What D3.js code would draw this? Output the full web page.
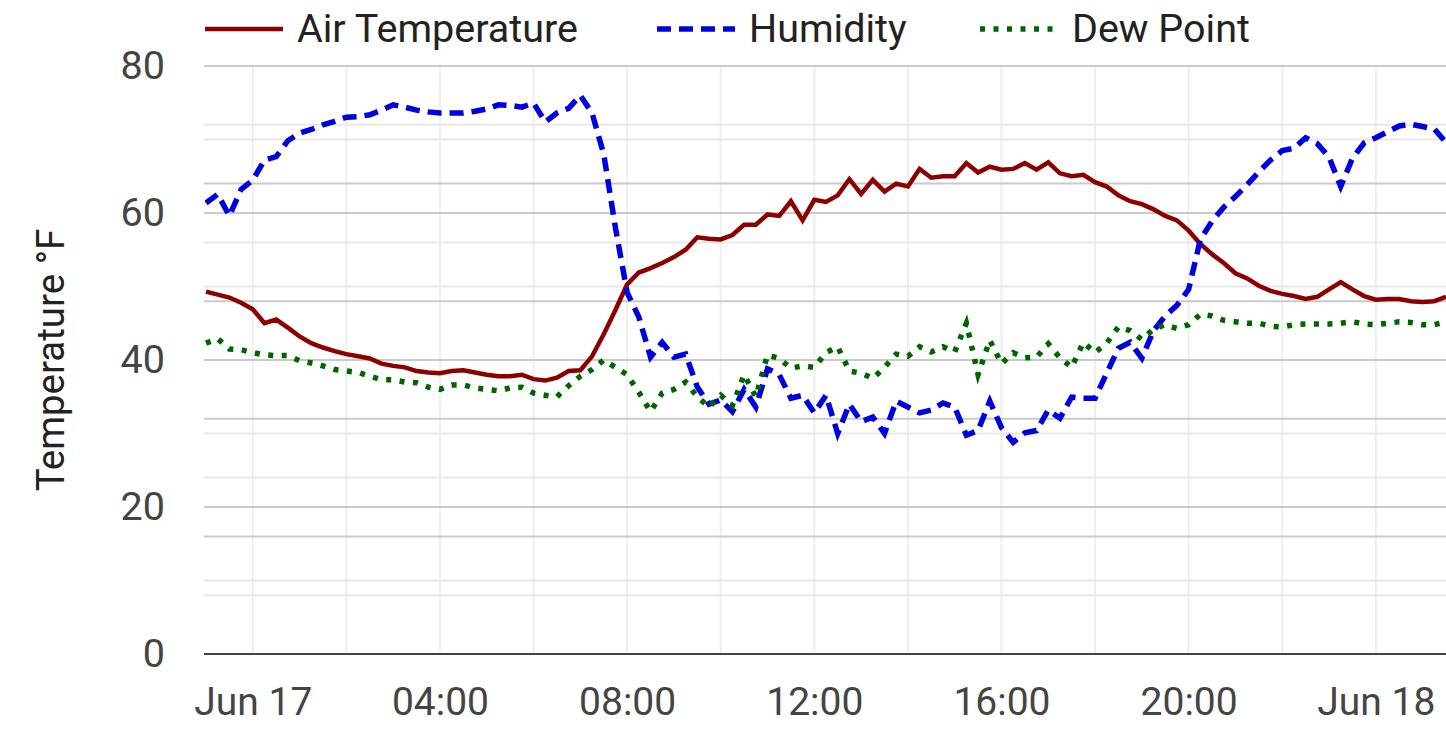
<!DOCTYPE html>
<html>
<head>
<meta charset="utf-8">
<script src="https://cdn.jsdelivr.net/npm/d3@7"></script>
<style>
  html, body { margin: 0; padding: 0; background: #fff; }
  svg { display: block; font-family: Roboto, "Noto Sans", sans-serif; }
</style>
</head>
<body>
<svg id="chart" width="1446" height="729"></svg>
<script>
// station log, one reading every 15 min from Jun 16 23:00
const startTime = new Date(2023, 5, 16, 23, 0);
const stepMinutes = 15;
const endTime = new Date(2023, 5, 18, 1, 30);

// °F
const airTemp = [
  49.3, 48.9, 48.5, 47.8, 46.9, 45.0, 45.5, 44.4, 43.2, 42.3,
  41.7, 41.2, 40.8, 40.5, 40.2, 39.5, 39.2, 39.0, 38.5, 38.3,
  38.2, 38.5, 38.6, 38.3, 38.0, 37.8, 37.8, 38.0, 37.4, 37.2,
  37.6, 38.5, 38.6, 40.5, 43.5, 46.8, 50.3, 51.9, 52.5, 53.2,
  54.0, 55.0, 56.7, 56.5, 56.4, 57.0, 58.4, 58.4, 59.8, 59.6,
  61.6, 59.0, 61.8, 61.5, 62.4, 64.6, 62.6, 64.5, 62.9, 64.0,
  63.6, 66.0, 64.8, 65.0, 65.0, 66.8, 65.5, 66.3, 65.9, 66.0,
  66.8, 65.9, 66.9, 65.4, 65.0, 65.2, 64.2, 63.6, 62.4, 61.6,
  61.2, 60.5, 59.6, 59.0, 57.6, 55.8, 54.4, 53.2, 51.8, 51.1,
  50.1, 49.4, 49.0, 48.7, 48.3, 48.6, 49.6, 50.6, 49.6, 48.7,
  48.2, 48.3, 48.3, 48.0, 47.9, 48.0, 48.6
];

// %RH, plotted on the right-hand 0-100 axis
const humidity = [
  76.7, 78.2, 74.5, 79.0, 80.6, 84.0, 84.6, 87.3, 88.6, 89.2,
  90.0, 90.6, 91.3, 91.4, 91.7, 92.5, 93.4, 93.0, 92.5, 92.2,
  92.0, 92.0, 92.0, 92.3, 92.7, 93.4, 93.3, 93.0, 93.7, 90.5,
  92.0, 92.8, 95.0, 92.0, 85.0, 72.5, 61.5, 57.3, 50.5, 53.0,
  50.5, 51.0, 45.4, 42.5, 43.2, 41.2, 45.0, 42.0, 48.5, 47.5,
  43.5, 44.0, 41.0, 44.0, 37.5, 42.5, 39.5, 40.3, 37.5, 43.0,
  42.0, 41.0, 41.5, 42.7, 42.0, 37.2, 38.0, 43.0, 38.5, 36.0,
  37.6, 38.0, 41.5, 40.1, 43.7, 43.5, 43.5, 47.8, 52.0, 53.0,
  50.3, 55.0, 57.5, 59.3, 62.0, 70.5, 73.6, 76.0, 77.8, 79.8,
  82.0, 84.0, 85.6, 86.0, 87.8, 86.8, 84.5, 79.5, 84.3, 86.9,
  87.8, 88.8, 89.8, 90.1, 89.7, 89.3, 87.0
];

// °F
const dewPoint = [
  42.3, 42.9, 41.5, 41.4, 41.0, 40.7, 40.6, 40.6, 39.9, 39.6,
  39.2, 38.7, 38.5, 38.3, 37.8, 37.3, 37.3, 37.0, 36.9, 36.3,
  36.0, 36.6, 36.6, 36.2, 36.0, 35.8, 36.2, 36.3, 35.5, 35.2,
  35.0, 36.5, 37.8, 38.7, 40.0, 39.0, 38.0, 35.6, 33.0, 35.5,
  36.0, 37.0, 35.0, 33.6, 35.2, 33.8, 38.0, 35.0, 40.7, 40.2,
  38.9, 39.2, 39.0, 41.0, 41.8, 38.5, 38.2, 37.5, 39.0, 40.8,
  40.5, 41.8, 41.1, 41.8, 41.1, 45.0, 38.0, 42.7, 39.5, 41.0,
  40.3, 40.4, 42.2, 40.3, 39.0, 42.4, 41.0, 42.3, 44.5, 44.0,
  42.8, 44.2, 44.8, 44.3, 44.8, 46.2, 46.0, 45.4, 45.2, 45.0,
  45.0, 44.6, 44.5, 44.8, 44.9, 44.9, 44.9, 45.0, 45.2, 44.9,
  44.8, 45.0, 45.2, 45.1, 44.8, 44.8, 45.2
];

const seriesNames = ["Air Temperature", "Humidity", "Dew Point"];
const tempTicks = [0, 20, 40, 60, 80];
const tempMinorTicks = [10, 30, 50, 70];
const humTicks = [20, 40, 60, 80, 100];
const humMinorTicks = [10, 30, 50, 70, 90];

const svg = d3.select("#chart");
const margin = {top: 66, right: 0, bottom: 75, left: 205};
const width = 1446, height = 729;

const x = d3.scaleTime().domain([startTime, endTime]).range([206, width - margin.right]);
const y = d3.scaleLinear().domain([0, 80]).range([height - margin.bottom, margin.top]);
const yHum = d3.scaleLinear().domain([0, 100]).range([height - margin.bottom, margin.top]);

const timeAt = i => d3.timeMinute.offset(startTime, i * stepMinutes);

const series = [
  {name: seriesNames[0], values: airTemp, scale: y, color: "#8b0000", width: 4.5, dash: null},
  {name: seriesNames[1], values: humidity, scale: yHum, color: "#0000dd", width: 5.5, dash: "14,8"},
  {name: seriesNames[2], values: dewPoint, scale: y, color: "#006400", width: 5.5, dash: "5,8.5"}
];

svg.append("clipPath").attr("id", "plot-clip")
  .append("rect")
  .attr("x", margin.left).attr("y", margin.top - 20)
  .attr("width", width - margin.left).attr("height", height - margin.bottom - margin.top + 20);

// grid
const grid = svg.append("g");
const x0 = margin.left - 1, x1 = width;

grid.selectAll(".vgrid")
  .data(x.ticks(d3.timeHour.every(2)))
  .join("line")
  .attr("x1", d => x(d)).attr("x2", d => x(d))
  .attr("y1", margin.top).attr("y2", height - margin.bottom)
  .attr("stroke", "#efefef").attr("stroke-width", 2);

grid.selectAll(".hmin")
  .data(tempMinorTicks.map(y).concat(humMinorTicks.map(yHum)))
  .join("line")
  .attr("x1", x0).attr("x2", x1)
  .attr("y1", d => d).attr("y2", d => d)
  .attr("stroke", "#e8e8e8").attr("stroke-width", 2);

grid.selectAll(".hmaj")
  .data(tempTicks.slice(1).map(y).concat(humTicks.map(yHum)))
  .join("line")
  .attr("x1", x0).attr("x2", x1)
  .attr("y1", d => d).attr("y2", d => d)
  .attr("stroke", "#cacaca").attr("stroke-width", 2);

// baseline
svg.append("line")
  .attr("x1", x0).attr("x2", x1)
  .attr("y1", y(0)).attr("y2", y(0))
  .attr("stroke", "#444").attr("stroke-width", 2);

// lines
const plot = svg.append("g").attr("clip-path", "url(#plot-clip)");
series.forEach(s => {
  const line = d3.line()
    .x((d, i) => x(timeAt(i)))
    .y(d => s.scale(d));
  plot.append("path")
    .datum(s.values)
    .attr("fill", "none")
    .attr("stroke", s.color)
    .attr("stroke-width", s.width)
    .attr("stroke-dasharray", s.dash)
    .attr("d", line);
});

// y axis
const yAxis = svg.append("g")
  .attr("transform", "translate(165,0)")
  .call(d3.axisLeft(y).tickValues(tempTicks).tickSize(0).tickPadding(0));
yAxis.select(".domain").remove();
yAxis.selectAll("text")
  .attr("fill", "#444").attr("font-size", 39.5)
  .attr("font-family", "Roboto, sans-serif");

// x axis
const fmt = d => d.getHours() === 0 ? d3.timeFormat("%b %d")(d) : d3.timeFormat("%H:%M")(d);
const xAxis = svg.append("g")
  .attr("transform", `translate(0,${height - margin.bottom})`)
  .call(d3.axisBottom(x).ticks(d3.timeHour.every(4)).tickFormat(fmt).tickSize(0).tickPadding(33));
xAxis.select(".domain").remove();
xAxis.selectAll("text")
  .attr("fill", "#444").attr("font-size", 39)
  .attr("font-family", "Roboto, sans-serif");

// y title
svg.append("text")
  .attr("transform", `translate(64,${(y(0) + y(80)) / 2}) rotate(-90)`)
  .attr("text-anchor", "middle")
  .attr("fill", "#222")
  .attr("font-size", 38.5)
  .text("Temperature °F");

// legend
const legendX = [205, 657, 980];
const legend = svg.append("g");
series.forEach((s, i) => {
  const g = legend.append("g").attr("transform", `translate(${legendX[i]},29)`);
  g.append("line")
    .attr("x1", 0).attr("x2", 78)
    .attr("stroke", s.color)
    .attr("stroke-width", s.width)
    .attr("stroke-dasharray", s.dash);
  g.append("text")
    .attr("x", 92).attr("y", 13)
    .attr("fill", "#222")
    .attr("font-size", 39.5)
    .text(s.name);
});
</script>
</body>
</html>
